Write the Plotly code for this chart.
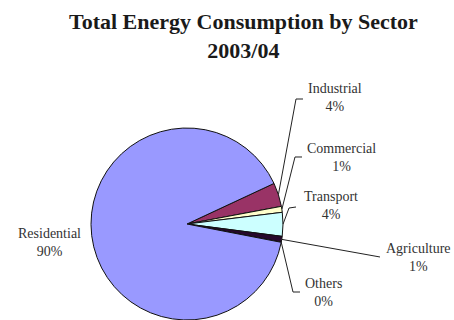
import math
import plotly.graph_objects as go

# Energy consumption shares by sector, 2003/04 (percent)
sectors = ["Industrial", "Commercial", "Transport", "Agriculture", "Others", "Residential"]
shares = [4, 1, 4, 1, 0, 90]
slice_colors = ["#993366", "#FFFFCC", "#CCFFFF", "#26082c", "#FF8080", "#9999FF"]

W, H = 454, 320
CX, CY, R = 187, 224, 96          # pie centre and radius in pixels
START = 65                         # first slice edge, degrees clockwise from 12 o'clock

# label centre, leader elbow, leader end (pixels)
label_layout = {
    "Industrial": ((335, 97), (296, 99), (303, 99)),
    "Commercial": ((341, 157), (295, 157), (302, 157)),
    "Transport": ((331, 205), (289, 208), (296, 207)),
    "Agriculture": ((418, 257), None, (380, 257)),
    "Others": ((323, 292), (293, 292), (300, 292)),
    "Residential": ((49, 242), None, None),
}


def px(x, y):
    return x / W, 1 - y / H


fig = go.Figure(go.Pie(
    labels=sectors,
    values=shares,
    sort=False,
    direction="clockwise",
    rotation=START,
    marker=dict(colors=slice_colors, line=dict(color="#111111", width=1)),
    textinfo="none",
    hoverinfo="label+percent",
    showlegend=False,
    domain=dict(x=[(CX - R) / W, (CX + R) / W], y=[0, 2 * R / H]),
))

total = sum(shares)
cum = 0
shapes, annotations = [], []
for name, val in zip(sectors, shares):
    mid = math.radians(START + 360 * (cum + val / 2) / total)
    cum += val
    (lx, ly), elbow, end = label_layout[name]
    annotations.append(dict(
        x=px(lx, ly)[0], y=px(lx, ly)[1], xref="paper", yref="paper",
        text=f"{name}<br>{val}%", showarrow=False,
        font=dict(family="Liberation Serif", size=14, color="#333333"),
        xanchor="center", yanchor="middle",
    ))
    if end is None:
        continue
    pts = [(CX + R * math.sin(mid), CY - R * math.cos(mid))]
    if elbow:
        pts.append(elbow)
    pts.append(end)
    path = "M " + " L ".join("%.4f,%.4f" % px(x, y) for x, y in pts)
    shapes.append(dict(type="path", path=path, xref="paper", yref="paper",
                       line=dict(color="#222222", width=1)))

# chart title
annotations.append(dict(
    x=px(244, 36)[0], y=px(244, 36)[1], xref="paper", yref="paper",
    text="<b>Total Energy Consumption by Sector<br>2003/04</b>", showarrow=False,
    font=dict(family="Liberation Serif", size=22, color="#1a1a1a"),
    xanchor="center", yanchor="middle",
))

fig.update_layout(
    width=W, height=H,
    margin=dict(l=0, r=0, t=0, b=0),
    paper_bgcolor="white",
    plot_bgcolor="white",
    shapes=shapes,
    annotations=annotations,
)

fig.write_html("out.html")
